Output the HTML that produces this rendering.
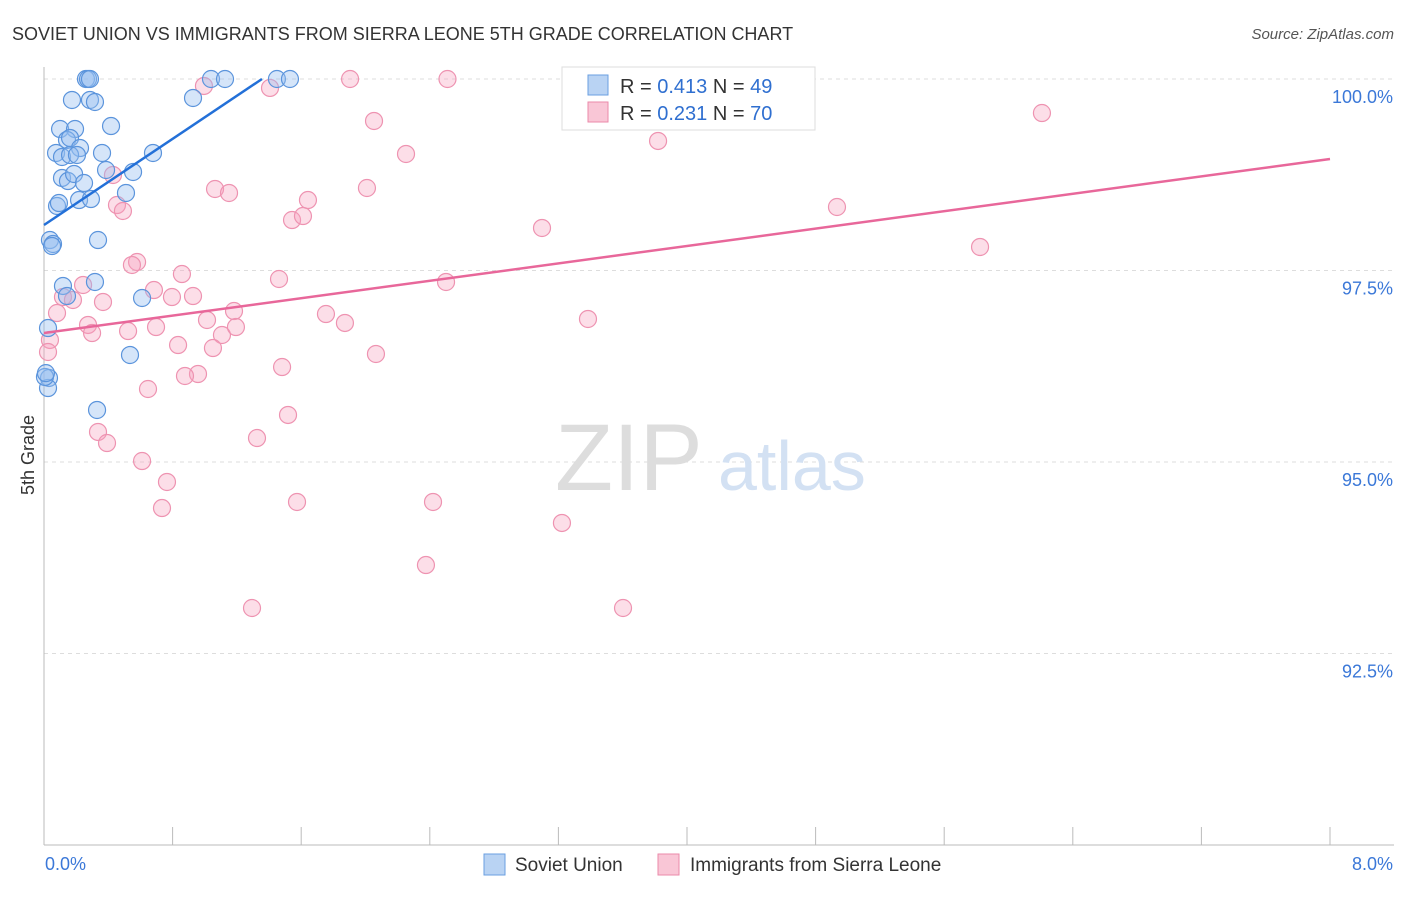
<!DOCTYPE html>
<html><head><meta charset="utf-8"><style>
body{margin:0;background:#fff;font-family:"Liberation Sans",sans-serif}
svg text{font-family:"Liberation Sans",sans-serif}
</style></head><body>
<svg id="c" width="1406" height="892" xmlns="http://www.w3.org/2000/svg">
<text x="12" y="40" font-size="18" fill="#333">SOVIET UNION VS IMMIGRANTS FROM SIERRA LEONE 5TH GRADE CORRELATION CHART</text>
<text x="1394" y="39" font-size="15" fill="#555" text-anchor="end" font-style="italic">Source: ZipAtlas.com</text>
<text x="34" y="455" font-size="18" fill="#333" text-anchor="middle" transform="rotate(-90 34 455)">5th Grade</text>
<g id="grid"></g>
<g id="axes"></g>
<text x="555" y="490" font-size="95" fill="#ddd" font-family="Liberation Serif">ZIP</text>
<text x="718" y="490" font-size="70" fill="#d3e1f3">atlas</text>
<g id="pts"></g>
<g id="trend"></g>
<g>
<rect x="562" y="67" width="253" height="63" fill="#fff" stroke="#ddd"/>
<rect x="588" y="75" width="20" height="20" fill="#b9d3f3" stroke="#6a9fe0"/>
<text x="620" y="93" font-size="20" fill="#333">R = <tspan fill="#2f6fd0">0.413</tspan>   N = <tspan fill="#2f6fd0">49</tspan></text>
<rect x="588" y="102" width="20" height="20" fill="#f9c6d6" stroke="#eb8aaa"/>
<text x="620" y="120" font-size="20" fill="#333">R = <tspan fill="#2f6fd0">0.231</tspan>   N = <tspan fill="#2f6fd0">70</tspan></text>
</g>
<g>
<rect x="484" y="854" width="21" height="21" fill="#b9d3f3" stroke="#6a9fe0"/>
<text x="515" y="871" font-size="19" fill="#333">Soviet Union</text>
<rect x="658" y="854" width="21" height="21" fill="#f9c6d6" stroke="#eb8aaa"/>
<text x="690" y="871" font-size="19" fill="#333">Immigrants from Sierra Leone</text>
</g>
</svg>
<script>
const xTicks=[0,0.8,1.6,2.4,3.2,4,4.8,5.6,6.4,7.2,8];
const yTicks=[100,97.5,95,92.5];
const yTickLabels=["100.0%","97.5%","95.0%","92.5%"];
const xEndLabels=["0.0%","8.0%"];
const blueX=[0.261,0.274,0.286,1.039,1.126,1.449,1.530,0.174,0.286,0.317,0.927,0.100,0.193,0.417,0.143,0.162,0.224,0.075,0.112,0.162,0.205,0.361,0.678,0.112,0.149,0.187,0.249,0.386,0.554,0.081,0.093,0.218,0.292,0.510,0.037,0.056,0.050,0.336,0.118,0.317,0.143,0.610,0.025,0.535,0.031,0.025,0.330,0.006,0.012];
const blueY=[100,100,100,100,100,100,100,99.726,99.726,99.70,99.752,99.347,99.347,99.386,99.204,99.230,99.099,99.034,98.982,99.008,99.008,99.034,99.034,98.708,98.668,98.760,98.642,98.812,98.786,98.342,98.381,98.420,98.433,98.512,97.898,97.846,97.820,97.898,97.298,97.350,97.167,97.141,96.749,96.397,96.097,95.966,95.679,96.11,96.16];
const pinkX=[0.995,1.406,1.904,2.510,3.328,4.286,6.208,2.053,2.252,3.820,1.064,1.151,2.009,1.642,1.543,1.611,4.933,3.098,5.823,0.454,0.491,0.429,0.579,0.547,0.858,1.462,2.501,0.243,0.118,0.180,0.367,0.796,0.684,0.927,1.182,1.014,1.754,1.872,3.384,0.081,0.274,0.299,0.523,0.697,1.107,1.194,0.834,1.051,2.065,0.037,0.025,1.481,0.958,0.877,0.647,1.518,0.336,0.392,1.325,0.610,0.765,0.734,1.574,2.420,3.222,2.376,1.294,3.602];
const pinkY=[99.909,99.883,100,100,100,100,99.556,99.452,99.021,99.191,98.564,98.512,98.577,98.420,98.159,98.211,98.329,98.055,97.807,98.355,98.277,98.747,97.611,97.572,97.454,97.389,97.350,97.311,97.154,97.115,97.089,97.154,97.245,97.167,96.971,96.854,96.932,96.815,96.867,96.945,96.789,96.684,96.710,96.762,96.658,96.762,96.527,96.488,96.410,96.593,96.436,96.240,96.149,96.123,95.953,95.614,95.392,95.248,95.313,95.013,94.739,94.399,94.478,94.478,94.204,93.655,93.094,93.094];
const blueTrend=[[0,98.094],[1.356,100]];
const pinkTrend=[[0,96.684],[8,98.956]];
const NS="http://www.w3.org/2000/svg";
const xs=v=>44+v/8*1286;
const ys=v=>79+(100-v)/2.5*191.5;
function mk(tag,parent,attrs){const e=document.createElementNS(NS,tag);for(const k in attrs)e.setAttribute(k,attrs[k]);parent.appendChild(e);return e;}
const grid=document.getElementById('grid'),axes=document.getElementById('axes'),pts=document.getElementById('pts'),tr=document.getElementById('trend');
yTicks.forEach((t,i)=>{
 const l=mk('line',grid,{x1:44,x2:1394,y1:ys(t),y2:ys(t),stroke:'#ddd','stroke-dasharray':'4 4'});
 
 
 const tx=mk('text',axes,{x:1393,y:ys(t)+24,'font-size':18,fill:'#3b78d8','text-anchor':'end'});
 tx.textContent=yTickLabels[i];
 
 
});
const ax=mk('line',axes,{x1:44,x2:1394,y1:845,y2:845,stroke:'#bbb'});


const ay=mk('line',axes,{x1:44,x2:44,y1:67,y2:845,stroke:'#bbb'});


xTicks.forEach(t=>{
 const l=mk('line',axes,{x1:xs(t),x2:xs(t),y1:827,y2:845,stroke:'#bbb'});
 
 
});
const xl0=mk('text',axes,{x:45,y:870,'font-size':18,fill:'#3b78d8'});xl0.textContent=xEndLabels[0];


const xl1=mk('text',axes,{x:1393,y:870,'font-size':18,fill:'#3b78d8','text-anchor':'end'});xl1.textContent=xEndLabels[1];


pinkX.forEach((x,i)=>{
 const c=mk('circle',pts,{cx:xs(x),cy:ys(pinkY[i]),r:8.5,fill:'rgba(245,160,190,0.35)',stroke:'#ee93b1','stroke-width':1.2});
 
 
});
blueX.forEach((x,i)=>{
 const c=mk('circle',pts,{cx:xs(x),cy:ys(blueY[i]),r:8.5,fill:'rgba(150,190,240,0.4)',stroke:'#5b94dc','stroke-width':1.2});
 
 
});
const bt=mk('line',tr,{x1:xs(blueTrend[0][0]),y1:ys(blueTrend[0][1]),x2:xs(blueTrend[1][0]),y2:ys(blueTrend[1][1]),stroke:'#2370d8','stroke-width':2.5});


const pt=mk('line',tr,{x1:xs(pinkTrend[0][0]),y1:ys(pinkTrend[0][1]),x2:xs(pinkTrend[1][0]),y2:ys(pinkTrend[1][1]),stroke:'#e8679a','stroke-width':2.5});


</script>
</body></html>
